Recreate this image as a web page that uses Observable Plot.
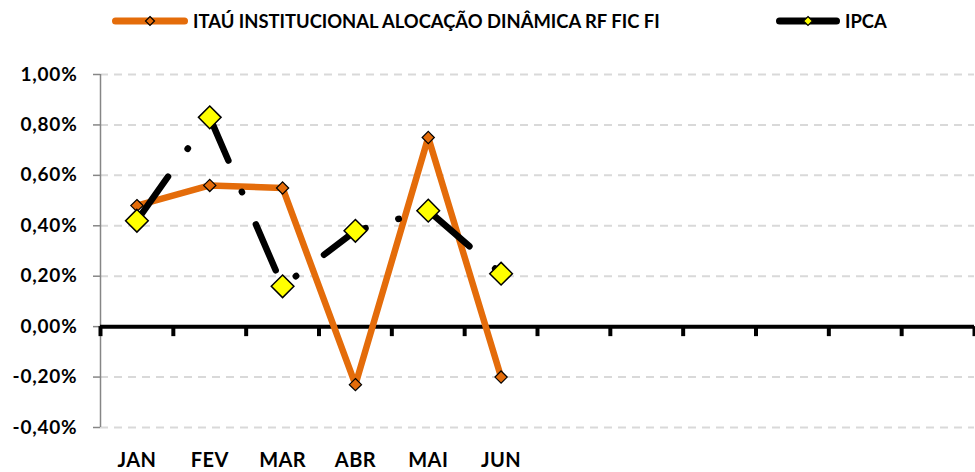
<!DOCTYPE html>
<html><head><meta charset="utf-8">
<script src="https://cdn.jsdelivr.net/npm/d3@7"></script>
<script src="https://cdn.jsdelivr.net/npm/@observablehq/plot@0.6"></script>
<style>
html,body{margin:0;padding:0;background:#fff;width:975px;height:472px;overflow:hidden;font-family:Lato,sans-serif;}
#legend{position:relative;height:44px;width:975px;}
.item{position:absolute;top:0;height:42px;display:flex;align-items:center;font-weight:700;font-size:18.4px;color:#000;white-space:nowrap;}
.item svg{display:block;margin-right:5px;}
#chart svg g[aria-label="y-axis tick label"] text{letter-spacing:0.8px;}
#chart svg g[aria-label="x-axis tick label"] text{letter-spacing:0.4px;}
</style></head><body>
<div id="legend"></div><div id="chart"></div>
<script>
// ---- data ----
const months = ["JAN", "FEV", "MAR", "ABR", "MAI", "JUN"];
const slots = 12; // months in the year shown on the x axis
const seriesNames = ["ITAÚ INSTITUCIONAL ALOCAÇÃO DINÂMICA RF FIC FI", "IPCA"];
const fund = [0.48, 0.56, 0.55, -0.23, 0.75, -0.20];
const ipca = [0.42, 0.83, 0.16, 0.38, 0.46, 0.21];
const yTicks = [-0.4, -0.2, 0, 0.2, 0.4, 0.6, 0.8, 1.0];

const orange = "#E46C0A";
const fmt = d => d.toFixed(2).replace(".", ",") + "%";

// ---- legend ----
const legend = document.getElementById("legend");
const legendSpec = [
  {name: seriesNames[0], left: 112, w: 76, line: orange, fill: orange, dh: 4.5},
  {name: seriesNames[1], left: 776, w: 64, line: "#000", fill: "#FFFF00", dh: 4.5}
];
for (const s of legendSpec) {
  const it = document.createElement("div");
  it.className = "item";
  it.style.left = s.left + "px";
  const c = s.w / 2;
  it.innerHTML = `<svg width="${s.w}" height="14"><line x1="3.5" x2="${s.w - 3.5}" y1="7" y2="7" stroke="${s.line}" stroke-width="7" stroke-linecap="round"/><path d="M${c},${7 - s.dh}L${c + s.dh},7L${c},${7 + s.dh}L${c - s.dh},7Z" fill="${s.fill}" stroke="#000" stroke-width="1.2"/></svg><span>${s.name}</span>`;
  legend.appendChild(it);
}

// ---- chart ----
const xPos = (d, i) => i + 0.5;
const chart = Plot.plot({
  width: 975,
  height: 428,
  marginTop: 30,
  marginBottom: 45,
  marginLeft: 100,
  marginRight: 1,
  style: {fontFamily: "Lato, sans-serif", fontWeight: 700, color: "#000", background: "#fff", overflow: "visible"},
  x: {type: "linear", domain: [0, slots]},
  y: {domain: [-0.4, 1.0]},
  marks: [
    Plot.ruleY(yTicks.filter(v => v !== 0), {stroke: "#D9D9D9", strokeWidth: 2, strokeDasharray: "8,6"}),
    Plot.axisY({ticks: yTicks, tickFormat: fmt, tickSize: 7, tickPadding: 16, stroke: "#868686", strokeWidth: 1.5, fontSize: 19, fontWeight: 700, label: null}),
    Plot.axisX({ticks: months.map((m, i) => i + 0.5), tickFormat: d => months[Math.floor(d)], tickSize: 0, tickPadding: 25, fontSize: 20, fontWeight: 700, label: null}),
    Plot.ruleX([0], {stroke: "#868686", strokeWidth: 1.5}),
    Plot.ruleY([0], {stroke: "#000", strokeWidth: 4}),
    Plot.ruleX(d3.range(slots + 1), {x: d => d, y1: 0, y2: 0, insetBottom: -10, stroke: "#000", strokeWidth: 4}),
    Plot.line(fund, {x: xPos, y: d => d, stroke: orange, strokeWidth: 6.5}),
    Plot.line(ipca, {x: xPos, y: d => d, stroke: "#000", strokeWidth: 6.5, strokeDasharray: "50,34,0.5,35", strokeDashoffset: -4, strokeLinecap: "round"}),
    Plot.dot(fund, {x: xPos, y: d => d, symbol: "diamond2", r: 5.5, fill: orange, stroke: "#000", strokeWidth: 1.2}),
    Plot.dot(ipca, {x: xPos, y: d => d, symbol: "diamond2", r: 10.2, fill: "#FFFF00", stroke: "#000", strokeWidth: 1.5})
  ]
});
document.getElementById("chart").appendChild(chart);
</script>
</body></html>
